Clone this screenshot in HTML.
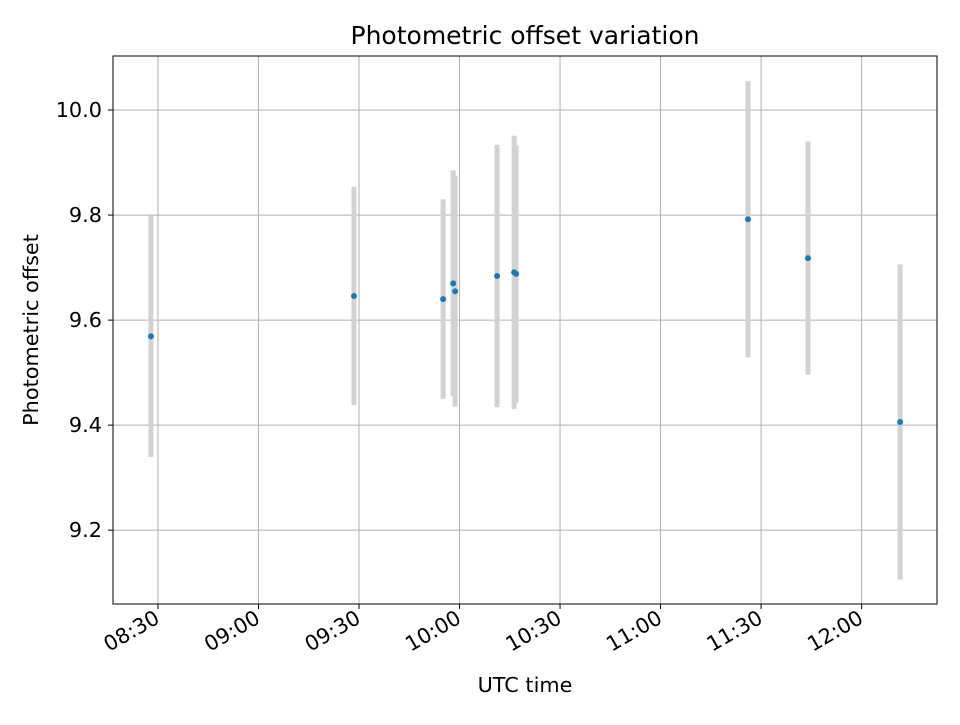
<!DOCTYPE html>
<html><head><meta charset="utf-8"><style>
body{margin:0;background:#fff}
svg text{font-family:"DejaVu Sans","Liberation Sans",sans-serif}
</style></head><body>
<svg id="chart" width="960" height="720" xmlns="http://www.w3.org/2000/svg">
<text x="525" y="44" text-anchor="middle" style="font-size:25px">Photometric offset variation</text>
<text x="525" y="692" text-anchor="middle" style="font-size:20.8px">UTC time</text>
<text transform="translate(38,330) rotate(-90)" text-anchor="middle" style="font-size:20.8px">Photometric offset</text>
<g id="grid"></g><g id="bars"></g><g id="pts"></g><g id="ticks"></g>
<rect x="113" y="56" width="824" height="548" fill="none" stroke="#000" stroke-width="1"/>
</svg>
<script>
// times as minutes after 08:00
const times = [27.9, 88.5, 115.1, 118.1, 118.7, 131.2, 136.3, 136.9, 206.1, 224.0, 251.5];
const offsets = [9.569, 9.646, 9.640, 9.670, 9.655, 9.684, 9.691, 9.688, 9.792, 9.718, 9.406];
const errors = [0.23, 0.208, 0.19, 0.215, 0.22, 0.25, 0.26, 0.245, 0.263, 0.222, 0.30];
const xTickMinutes = [30, 60, 90, 120, 150, 180, 210, 240];
const xTickLabels = ["08:30","09:00","09:30","10:00","10:30","11:00","11:30","12:00"];
const yTicks = [9.2, 9.4, 9.6, 9.8, 10.0];
const yTickLabels = ["9.2","9.4","9.6","9.8","10.0"];

const L=113,R=937,T=56,B=604;
const xMin=16.58, xMax=262.5, yMin=9.0594, yMax=10.1029;
const xs=m=>L+(m-xMin)/(xMax-xMin)*(R-L);
const ys=v=>B-(v-yMin)/(yMax-yMin)*(B-T);
const NS="http://www.w3.org/2000/svg";
function mk(tag,parent,attrs){const e=document.createElementNS(NS,tag);for(const k in attrs)e.setAttribute(k,attrs[k]);document.getElementById(parent).appendChild(e);return e;}
xTickMinutes.forEach((m,i)=>{
  const x=xs(m);
  const g=mk('line','grid',{x1:x,x2:x,y1:T,y2:B,stroke:'#b0b0b0','stroke-width':1});
  
  
  const t=mk('line','ticks',{x1:x,x2:x,y1:B,y2:B+5,stroke:'#000'});
  
  
  const bx=x+3, by=B+18;
  const lb=mk('text','ticks',{x:bx,y:by,'text-anchor':'end',style:'font-size:20.8px',transform:`rotate(-30 ${bx} ${by})`});
  lb.textContent=xTickLabels[i];
  
  
});
yTicks.forEach((v,i)=>{
  const y=ys(v);
  const g=mk('line','grid',{x1:L,x2:R,y1:y,y2:y,stroke:'#b0b0b0','stroke-width':1});
  
  
  const t=mk('line','ticks',{x1:L-5,x2:L,y1:y,y2:y,stroke:'#000'});
  
  
  const lb=mk('text','ticks',{x:L-11,y:y+7,'text-anchor':'end',style:'font-size:20.8px'});
  lb.textContent=yTickLabels[i];
  
  
});
times.forEach((m,i)=>{
  const x=xs(m);
  const b=mk('line','bars',{x1:x,x2:x,y1:ys(offsets[i]+errors[i]),y2:ys(offsets[i]-errors[i]),stroke:'#d3d3d3','stroke-width':5});
  
  
  const p=mk('circle','pts',{cx:x,cy:ys(offsets[i]),r:3,fill:'#1f77b4'});
  
  
});
</script>
</body></html>
